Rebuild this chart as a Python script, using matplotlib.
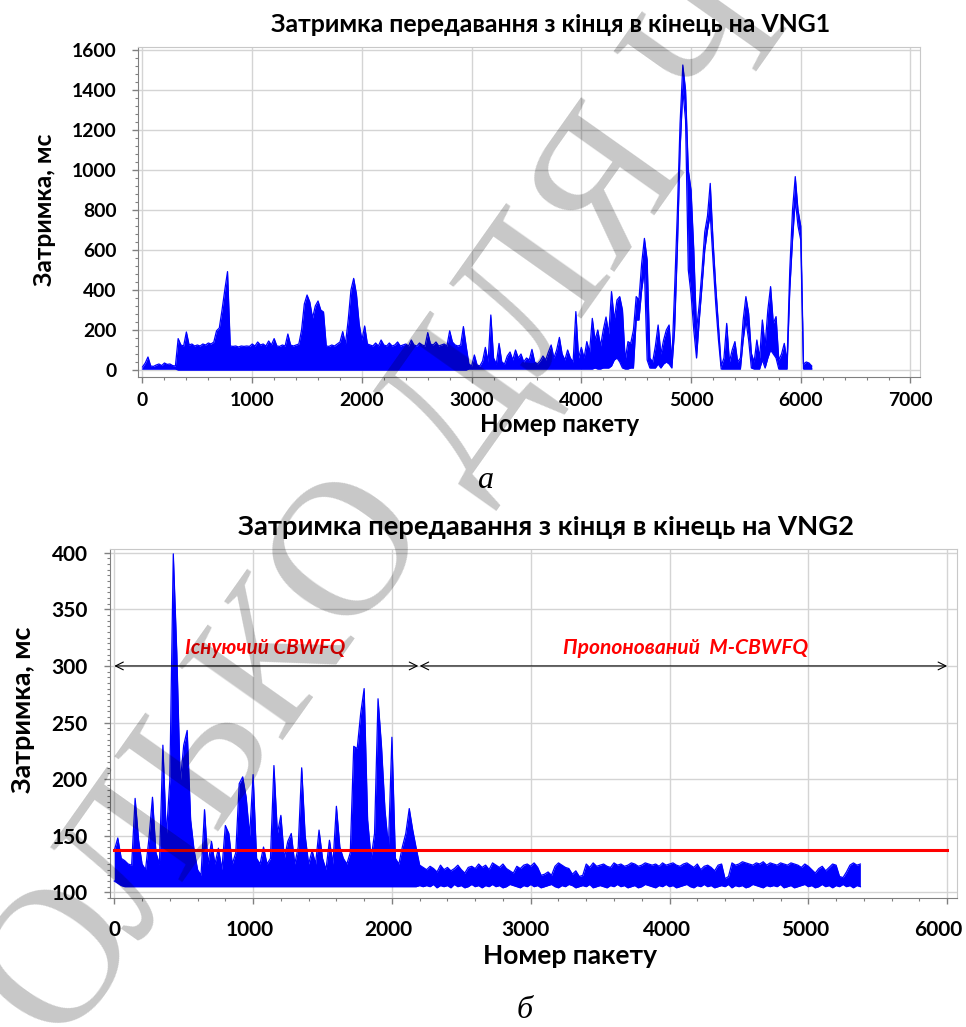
import matplotlib
matplotlib.use("Agg")
import matplotlib.pyplot as plt
from matplotlib.ticker import MultipleLocator
from matplotlib.transforms import ScaledTranslation

# ---------------- data ----------------
# VNG1: end-to-end delay, sampled every 25 packets: upper / lower envelope (ms)
vng1_packet = list(range(0, 6101, 25))
vng1_high = [
    15, 35, 65, 20, 18, 25, 30, 22, 35, 28,
    30, 22, 20, 157, 125, 120, 190, 125, 130, 120,
    125, 120, 130, 125, 135, 130, 140, 196, 210, 300,
    400, 492, 120, 118, 120, 115, 120, 118, 120, 118,
    130, 120, 140, 125, 130, 120, 145, 125, 157, 120,
    118, 125, 120, 180, 125, 120, 125, 130, 200, 330,
    375, 340, 260, 320, 345, 300, 290, 120, 118, 125,
    120, 130, 140, 192, 130, 250, 400, 458, 380, 230,
    150, 220, 130, 125, 120, 135, 120, 150, 125, 120,
    135, 120, 125, 140, 120, 125, 130, 120, 150, 125,
    120, 135, 125, 120, 187, 130, 125, 140, 120, 125,
    130, 120, 196, 140, 125, 120, 125, 217, 120, 30,
    20, 75, 25, 20, 45, 113, 40, 275, 60, 30,
    133, 40, 30, 70, 90, 50, 100, 60, 80, 40,
    60, 50, 103, 40, 30, 45, 70, 50, 90, 125,
    60, 100, 163, 80, 50, 100, 60, 40, 292, 60,
    113, 60, 142, 90, 258, 150, 200, 120, 200, 265,
    180, 392, 250, 350, 367, 300, 50, 142, 133, 200,
    367, 350, 533, 658, 550, 60, 40, 120, 225, 80,
    150, 200, 225, 40, 400, 783, 1233, 1525, 1400, 1000,
    900, 600, 200, 330, 500, 690, 770, 933, 650, 420,
    220, 20, 60, 233, 40, 100, 142, 40, 60, 250,
    367, 283, 83, 40, 150, 60, 250, 120, 300, 417,
    233, 267, 50, 80, 133, 40, 500, 800, 967, 800,
    720, 30, 40, 35, 20,
]
vng1_low = [
    5, 5, 5, 5, 5, 5, 5, 5, 5, 5,
    5, 5, 5, 0, 0, 0, 0, 0, 0, 0,
    0, 0, 0, 0, 0, 0, 0, 0, 0, 0,
    0, 0, 0, 0, 0, 0, 0, 0, 0, 0,
    0, 0, 0, 0, 0, 0, 0, 0, 0, 0,
    0, 0, 0, 0, 0, 0, 0, 0, 0, 0,
    0, 0, 0, 0, 0, 0, 0, 0, 0, 0,
    0, 0, 0, 0, 0, 0, 0, 0, 0, 0,
    0, 0, 0, 0, 0, 0, 0, 0, 0, 0,
    0, 0, 0, 0, 0, 0, 0, 0, 0, 0,
    0, 0, 0, 0, 0, 0, 0, 0, 0, 0,
    0, 0, 0, 0, 0, 0, 0, 0, 0, 5,
    5, 5, 5, 5, 5, 5, 5, 5, 5, 5,
    5, 5, 5, 5, 5, 5, 5, 5, 5, 5,
    5, 5, 5, 5, 5, 5, 5, 5, 5, 5,
    5, 5, 5, 5, 5, 5, 5, 5, 5, 5,
    5, 5, 5, 5, 5, 10, 5, 5, 10, 10,
    10, 20, 50, 60, 40, 10, 5, 5, 10, 10,
    250, 250, 400, 500, 50, 10, 10, 10, 30, 10,
    30, 40, 30, 10, 200, 600, 1100, 1400, 1250, 500,
    380, 200, 60, 250, 420, 600, 700, 780, 550, 330,
    150, 5, 5, 5, 5, 5, 5, 5, 5, 150,
    250, 150, 10, 5, 5, 5, 50, 10, 60, 100,
    80, 60, 5, 5, 5, 5, 400, 650, 850, 720,
    650, 5, 5, 5, 5,
]

# VNG2: end-to-end delay, sampled every 25 packets: upper / lower envelope (ms)
vng2_packet = list(range(0, 5376, 25))
vng2_high = [
    137, 148, 130, 128, 125, 124, 183, 146, 125, 120,
    148, 184, 135, 125, 230, 150, 199, 399, 312, 197,
    230, 243, 164, 137, 120, 115, 173, 125, 145, 125,
    139, 120, 159, 152, 125, 135, 196, 202, 184, 150,
    204, 130, 125, 140, 125, 130, 212, 152, 168, 130,
    145, 152, 125, 140, 210, 150, 125, 137, 125, 155,
    130, 120, 146, 125, 176, 140, 130, 125, 135, 229,
    227, 258, 280, 164, 130, 152, 271, 229, 173, 140,
    237, 130, 125, 140, 152, 174, 155, 139, 124, 122,
    120, 123, 121, 118, 124, 120, 122, 119, 121, 124,
    120, 117, 122, 123, 121, 125, 122, 124, 120, 126,
    124, 122, 125, 121, 119, 117, 123, 121, 124, 125,
    123, 126, 122, 115, 116, 118, 115, 123, 126, 124,
    122, 121, 116, 119, 114, 115, 125, 122, 126, 123,
    124, 125, 123, 122, 126, 124, 125, 123, 124, 126,
    125, 123, 124, 126, 125, 124, 125, 123, 126, 124,
    125, 126, 124, 123, 125, 126, 124, 122, 125, 120,
    123, 124, 122, 119, 124, 125, 112, 114, 126, 124,
    125, 127, 126, 125, 124, 126, 125, 127, 124, 126,
    125, 124, 126, 125, 124, 126, 125, 124, 122, 125,
    123, 120, 117, 121, 123, 119, 122, 125, 124, 114,
    113, 118, 124, 126, 124, 125,
]
vng2_low = [
    110, 108, 106, 105, 105, 105, 105, 105, 105, 105,
    105, 105, 105, 105, 105, 105, 105, 105, 105, 105,
    105, 105, 105, 105, 105, 105, 105, 105, 105, 105,
    105, 105, 105, 105, 105, 105, 105, 105, 105, 105,
    105, 105, 105, 105, 105, 105, 105, 105, 105, 105,
    105, 105, 105, 105, 105, 105, 105, 105, 105, 105,
    105, 105, 105, 105, 105, 105, 105, 105, 105, 105,
    105, 105, 105, 105, 105, 105, 105, 105, 105, 105,
    105, 105, 105, 105, 105, 105, 105, 105, 106, 105,
    106, 105, 107, 104, 106, 105, 106, 104, 107, 105,
    106, 104, 105, 107, 105, 106, 104, 106, 105, 107,
    105, 106, 104, 105, 107, 106, 105, 104, 106, 105,
    107, 105, 106, 104, 105, 106, 107, 105, 104, 106,
    105, 107, 106, 104, 105, 106, 105, 107, 104, 105,
    106, 105, 104, 106, 105, 107, 105, 106, 104, 105,
    106, 104, 105, 107, 106, 105, 104, 106, 105, 107,
    105, 106, 104, 105, 106, 107, 105, 104, 106, 105,
    107, 105, 106, 104, 105, 106, 105, 107, 104, 106,
    105, 106, 104, 105, 107, 106, 105, 104, 106, 105,
    106, 105, 107, 104, 105, 106, 104, 105, 106, 107,
    105, 106, 104, 105, 107, 105, 106, 104, 106, 105,
    107, 105, 106, 104, 106, 105,
]

threshold_ms = 137
threshold_span = [0, 6000]
cbwfq_span = [0, 2190]
mcbwfq_span = [2200, 6000]
arrow_level = 300

top_title = "Затримка передавання з кінця в кінець на VNG1"
bottom_title = "Затримка передавання з кінця в кінець на VNG2"
x_label = "Номер пакету"
y_label = "Затримка, мс"
label_old = "Існуючий CBWFQ"
label_new = "Пропонований  M-CBWFQ"
watermark = "ТОЛЬКО ДЛЯ ЧТЕНИЯ"

# ---------------- style ----------------
SANS = ["Lato", "Open Sans", "DejaVu Sans"]
SERIF = ["Liberation Serif", "DejaVu Serif"]
plt.rcParams["font.family"] = SANS
plt.rcParams["font.weight"] = "bold"

W, H = 966, 1027
fig = plt.figure(figsize=(W / 100, H / 100), dpi=100)
BLUE = "#0000ff"


def fx(px):
    return px / W


def fy(py):
    return 1 - py / H


ax1 = fig.add_axes([fx(138), fy(377), (920 - 138) / W, (377 - 47) / H])
ax2 = fig.add_axes([fx(110), fy(898), (956.7 - 110) / W, (898 - 549) / H])


def style_axes(ax):
    ax.set_facecolor("none")
    ax.grid(True, which="major", color="#d4d4d4", lw=1.0)
    ax.set_axisbelow(True)
    for s in ["top", "right"]:
        ax.spines[s].set_color("#c8c8c8")
    for s in ["left", "bottom"]:
        ax.spines[s].set_color("#808080")
    ax.tick_params(which="both", direction="out", colors="#808080",
                   labelcolor="black")
    ax.tick_params(which="major", length=4, width=1)
    ax.tick_params(which="minor", length=2.5, width=0.8)


def draw_series(ax, x, hi, lo):
    ax.fill_between(x, lo, hi, color=BLUE, lw=0, zorder=3)
    ax.plot(x, hi, color=BLUE, lw=0.9, zorder=3)
    ax.plot(x, lo, color=BLUE, lw=0.9, zorder=3)


# top chart
style_axes(ax1)
draw_series(ax1, vng1_packet, vng1_high, vng1_low)
ax1.set_xlim(-41, 7087)
ax1.set_ylim(-35, 1615)
ax1.set_xticks(range(0, 7001, 1000))
ax1.set_yticks(range(0, 1601, 200))
ax1.xaxis.set_minor_locator(MultipleLocator(200))
ax1.yaxis.set_minor_locator(MultipleLocator(40))
ax1.tick_params(axis="y", pad=11.5)
ax1.tick_params(axis="x", pad=6.5)

# bottom chart
style_axes(ax2)
draw_series(ax2, vng2_packet, vng2_high, vng2_low)
ax2.plot(threshold_span, [threshold_ms, threshold_ms], color="#ff0000",
         lw=2.2, zorder=4)
for span in (cbwfq_span, mcbwfq_span):
    ax2.annotate("", xy=(span[0], arrow_level), xytext=(span[1], arrow_level),
                 arrowprops=dict(arrowstyle="<->", color="black", lw=0.8,
                                 shrinkA=0, shrinkB=0, mutation_scale=14),
                 zorder=5)
ax2.set_xlim(-31, 6069)
ax2.set_ylim(95, 403.3)
ax2.set_xticks(range(0, 6001, 1000))
ax2.set_yticks(range(100, 401, 50))
ax2.xaxis.set_minor_locator(MultipleLocator(200))
ax2.yaxis.set_minor_locator(MultipleLocator(5))
ax2.tick_params(axis="y", pad=12)
ax2.tick_params(axis="x", pad=11.5)

# texts
texts = []


def ftext(px, py, s, target, dim="w", **kw):
    t = fig.text(fx(px), fy(py), s, ha="center", va="center", fontsize=10, **kw)
    texts.append((t, target, dim))
    return t


ftext(551, 25, top_title, 563)
ftext(546, 527, bottom_title, 617)
ftext(560, 425, x_label, 160)
ftext(570, 956, x_label, 175)
ftext(45, 210, y_label, 153, dim="h", rotation=90)
ftext(23, 710, y_label, 167, dim="h", rotation=90)
ftext(485, 481, "а", 0, family=SERIF, style="italic", weight="normal")
ftext(525, 1010, "б", 0, family=SERIF, style="italic", weight="normal")

t_old = ax2.text(1086, 316, label_old, color="#ff0000", style="italic",
                 ha="center", va="center", fontsize=10, zorder=6)
t_new = ax2.text(4119, 316, label_new, color="#ff0000", style="italic",
                 ha="center", va="center", fontsize=10, zorder=6)
texts.append((t_old, 160, "w"))
texts.append((t_new, 245, "w"))

probe1 = fig.text(0, 0, "1600", fontsize=10)
probe2 = fig.text(0, 0, "6000", fontsize=10)

fig.canvas.draw()
r = fig.canvas.get_renderer()
for t, target, dim in texts:
    if target == 0:
        t.set_fontsize(23)
        continue
    bb = t.get_window_extent(r)
    cur = bb.width if dim == "w" else bb.height
    t.set_fontsize(10 * target / cur)

s1 = 10 * 45 / probe1.get_window_extent(r).width
s2 = 10 * 49 / probe2.get_window_extent(r).width
probe1.remove()
probe2.remove()
ax1.tick_params(labelsize=s1)
ax2.tick_params(labelsize=s2)

# bottom x tick labels sit slightly left of their ticks (last one pulled in)
fig.canvas.draw()
x2_label_shift = [0, -3, -4, -5, -3, -3, -9]
for lab, dx in zip(ax2.get_xticklabels(), x2_label_shift):
    lab.set_transform(lab.get_transform() +
                      ScaledTranslation(dx / 100, 0, fig.dpi_scale_trans))

# document watermark (semi-transparent, drawn over the page)
fig.text(fx(-3), fy(1145), watermark, rotation=54.7, rotation_mode="anchor",
         ha="left", va="baseline", fontsize=140, family=SERIF,
         weight="normal", color="black", alpha=0.22, zorder=10)

fig.savefig("out.png", dpi=100)
